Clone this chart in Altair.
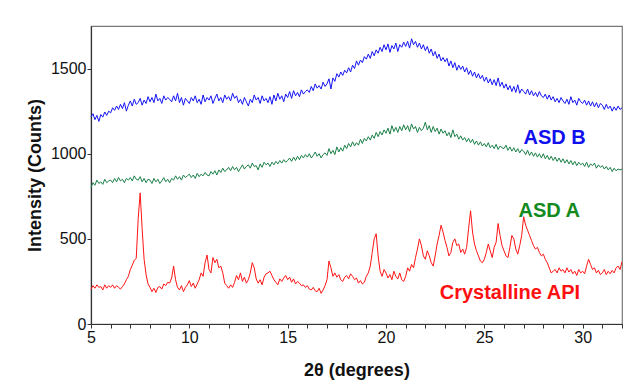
import altair as alt
import numpy as np
import pandas as pd

# 2theta grid (5.0 .. 32.0, step 0.1)
two_theta = [round(5 + 0.1 * i, 1) for i in range(271)]

asd_b = [
    1215, 1235, 1200, 1225, 1190, 1230, 1215, 1245, 1225, 1250,
    1240, 1270, 1255, 1280, 1260, 1290, 1265, 1300, 1250, 1285,
    1310, 1280, 1320, 1290, 1300, 1325, 1285, 1315, 1295, 1335,
    1305, 1330, 1300, 1350, 1310, 1325, 1295, 1340, 1315, 1330,
    1320, 1305, 1340, 1310, 1355, 1300, 1330, 1285, 1325, 1310,
    1295, 1330, 1310, 1340, 1300, 1320, 1290, 1345, 1305, 1330,
    1315, 1340, 1295, 1325, 1350, 1310, 1330, 1300, 1345, 1320,
    1335, 1310, 1355, 1325, 1340, 1300, 1320, 1290, 1330, 1305,
    1280, 1320, 1300, 1345, 1315, 1330, 1295, 1340, 1310, 1325,
    1300, 1335, 1290, 1345, 1310, 1355, 1320, 1340, 1305, 1350,
    1330, 1365, 1325, 1370, 1340, 1360, 1335, 1375, 1350, 1365,
    1375, 1360, 1395, 1370, 1410, 1385, 1400, 1380, 1420, 1395,
    1410, 1440, 1380, 1445, 1425, 1470, 1450, 1480, 1460, 1490,
    1475, 1505, 1480, 1520, 1500, 1545, 1520, 1550, 1535, 1570,
    1555, 1585, 1560, 1600, 1575, 1610, 1590, 1625, 1600, 1640,
    1610, 1645, 1595, 1635, 1615, 1650, 1600, 1640, 1625, 1655,
    1630, 1660, 1620, 1675, 1640, 1660, 1625, 1650, 1615, 1640,
    1605, 1630, 1590, 1615, 1575, 1600, 1560, 1585, 1545, 1565,
    1540, 1560, 1515, 1545, 1505, 1535, 1490, 1520, 1495, 1515,
    1480, 1505, 1465, 1490, 1455, 1480, 1445, 1470, 1440, 1460,
    1425, 1450, 1415, 1440, 1405, 1435, 1400, 1445, 1395, 1420,
    1385, 1410, 1375, 1400, 1365, 1395, 1360, 1405, 1355, 1380,
    1365, 1350, 1380, 1345, 1370, 1340, 1360, 1335, 1365, 1340,
    1330, 1350, 1320, 1345, 1315, 1335, 1305, 1325, 1300, 1330,
    1310, 1295, 1320, 1290, 1335, 1300, 1315, 1285, 1325, 1305,
    1295, 1315, 1285, 1310, 1280, 1305, 1275, 1300, 1270, 1295,
    1285, 1260, 1290, 1265, 1280, 1250, 1275, 1255, 1280, 1260,
    1270,
]

asd_a = [
    800, 830, 815, 845, 825, 835, 820, 850, 830, 840,
    845, 830, 855, 835, 860, 840, 850, 830, 855, 845,
    860, 840, 870, 850, 845, 865, 835, 855, 830, 850,
    845, 825, 855, 835, 850, 825, 840, 860, 835, 850,
    830, 855, 845, 870, 850, 865, 845, 875, 860, 870,
    880, 860, 875, 855, 885, 865, 880, 870, 890, 875,
    870, 895, 880, 900, 875, 905, 890, 915, 895, 905,
    920, 900, 925, 905, 920, 895, 915, 935, 910, 925,
    935, 915, 945, 925, 930, 905, 940, 920, 950, 935,
    945, 925, 950, 935, 955, 940, 960, 945, 965, 950,
    960, 975, 955, 980, 960, 985, 965, 990, 975, 995,
    980, 1000, 975, 990, 1010, 985, 1000, 975, 995, 1005,
    990, 1030, 1000, 1020, 995, 1040, 1010, 1035, 1015, 1050,
    1030, 1060, 1040, 1070, 1045, 1065, 1050, 1085, 1060, 1090,
    1075, 1100, 1080, 1110, 1090, 1125, 1100, 1130, 1110, 1140,
    1120, 1150, 1115, 1165, 1130, 1155, 1125, 1160, 1135, 1170,
    1140, 1165, 1130, 1175, 1145, 1160, 1125, 1155, 1135, 1150,
    1185, 1140, 1165, 1125, 1160, 1130, 1150, 1115, 1145, 1120,
    1135, 1105, 1125, 1095, 1140, 1100, 1115, 1085, 1105, 1080,
    1095, 1070, 1090, 1065, 1085, 1055, 1075, 1050, 1070, 1045,
    1060, 1040, 1065, 1035, 1050, 1030, 1055, 1025, 1045, 1035,
    1030, 1050, 1020, 1040, 1015, 1035, 1010, 1030, 1005, 1025,
    1015, 995, 1020, 990, 1010, 985, 1005, 980, 1000, 975,
    1000, 970, 990, 965, 985, 960, 980, 955, 975, 950,
    970, 945, 965, 940, 960, 935, 955, 930, 950, 935,
    945, 925, 950, 920, 940, 930, 945, 915, 935, 920,
    930, 910, 925, 905, 920, 895, 915, 900, 910, 905,
    910,
]

crystalline = [
    205, 225, 210, 230, 215, 220, 200, 230, 210, 225,
    215, 230, 210, 225, 215, 205, 220, 235, 260, 280,
    320, 345, 375, 385, 620, 770, 560, 380, 290, 235,
    215, 190, 210, 185, 215, 220, 205, 235, 225, 245,
    240, 270, 340, 260, 215, 200, 225, 190, 215, 230,
    255, 220, 240, 210, 235, 260, 300, 280, 360, 405,
    320, 300, 390, 360, 380, 330, 340, 300, 240, 225,
    210, 230, 215, 245, 285, 260, 300, 250, 275, 240,
    260, 300, 360, 330, 265, 240, 260, 230, 275, 295,
    300, 310, 285, 260, 245, 230, 265, 250, 270, 285,
    260, 275, 245, 265, 235, 250, 240, 225, 230, 215,
    225, 205, 200, 215, 195, 190, 210, 180, 200, 225,
    260, 370, 330, 280, 300, 275, 290, 260, 250, 275,
    285, 265, 295, 280, 260, 270, 240, 255, 235, 245,
    280, 300, 340, 420, 500, 530, 400, 310, 280, 320,
    300, 270, 290, 260, 310, 280, 265, 300, 260, 250,
    280, 330, 310, 350, 330, 390, 440, 500, 460, 400,
    380, 430, 400, 360, 340, 400, 470, 520, 580, 540,
    490, 450, 400, 420, 480, 500, 460, 470, 420, 440,
    410, 450, 560, 665, 540, 470, 430, 400, 370, 360,
    380, 420, 470, 430, 390, 450, 480, 590, 520, 460,
    430, 400, 390, 450, 520, 500, 440, 410, 460, 520,
    630, 580, 550, 520, 490, 460, 440, 450, 420, 400,
    410, 380, 360, 330, 300, 310, 320, 300, 330, 310,
    320, 300, 330, 305, 320, 295, 310, 285, 320, 300,
    310, 295, 340, 380, 350, 320, 330, 300, 315, 290,
    300, 320, 290, 310, 295, 315, 300, 330, 340, 320,
    365,
]

series_names = ["ASD B", "ASD A", "Crystalline API"]
line_colors = ["#1414F5", "#1A8048", "#FF1414"]

label_text = ["ASD B", "ASD A", "Crystalline API"]
label_x = [28.57, 28.3, 26.3]
label_y = [1094, 665, 182]
label_colors = ["#1010EE", "#128A1E", "#FF1010"]

x_ticks = list(range(5, 33))
y_ticks = [0, 500, 1000, 1500]

rows = []
for name, vals in zip(series_names, [asd_b, asd_a, crystalline]):
    for xv, yv in zip(two_theta, vals):
        rows.append({"x": xv, "y": yv, "series": name})
df = pd.DataFrame(rows)

lab_df = pd.DataFrame({"text": label_text, "x": label_x, "y": label_y, "color": label_colors})

x_axis = alt.Axis(
    title="2θ (degrees)",
    values=x_ticks,
    labelExpr="datum.value % 5 == 0 ? datum.label : ''",
    labelOverlap=False,
    labelFlush=False,
    grid=False,
)
y_axis = alt.Axis(title="Intensity (Counts)", values=y_ticks, format="d", grid=False,
                  labelOverlap=False)
x_scale = alt.Scale(domain=[5, 32], nice=False, zero=False)
y_scale = alt.Scale(domain=[0, 1750], nice=False)

lines = alt.Chart(df).mark_line(strokeWidth=1).encode(
    x=alt.X("x:Q", scale=x_scale, axis=x_axis),
    y=alt.Y("y:Q", scale=y_scale, axis=y_axis),
    color=alt.Color("series:N", scale=alt.Scale(domain=series_names, range=line_colors), legend=None),
    detail="series:N",
)

labels = alt.Chart(lab_df).mark_text(
    font="Liberation Sans", fontWeight="bold", fontSize=20, align="center", baseline="middle"
).encode(
    x=alt.X("x:Q", scale=x_scale, axis=x_axis),
    y=alt.Y("y:Q", scale=y_scale, axis=y_axis),
    text="text:N",
    color=alt.Color("color:N", scale=None),
)

chart = alt.layer(lines, labels).properties(
    width=531,
    height=298,
    autosize=alt.AutoSizeParams(type="none"),
    padding={"left": 83, "top": 18, "right": 1, "bottom": 56},
    background="white",
).configure_view(
    stroke="#777777", strokeWidth=1.2
).configure_axis(
    labelFont="Liberation Sans",
    labelFontSize=16,
    labelColor="#111111",
    labelOverlap=False,
    titleFont="Liberation Sans",
    titleFontSize=18,
    titleFontWeight="bold",
    titleColor="#111111",
    domainColor="#333333",
    domainWidth=1.2,
    tickColor="#333333",
    tickSize=4,
    labelPadding=1,
).configure_axisX(
    titlePadding=16,
    labelOverlap=False,
).configure_axisY(
    titlePadding=6,
    labelFlush=False,
)

chart.save("out.html", embed_options={"renderer": "svg", "actions": False})
